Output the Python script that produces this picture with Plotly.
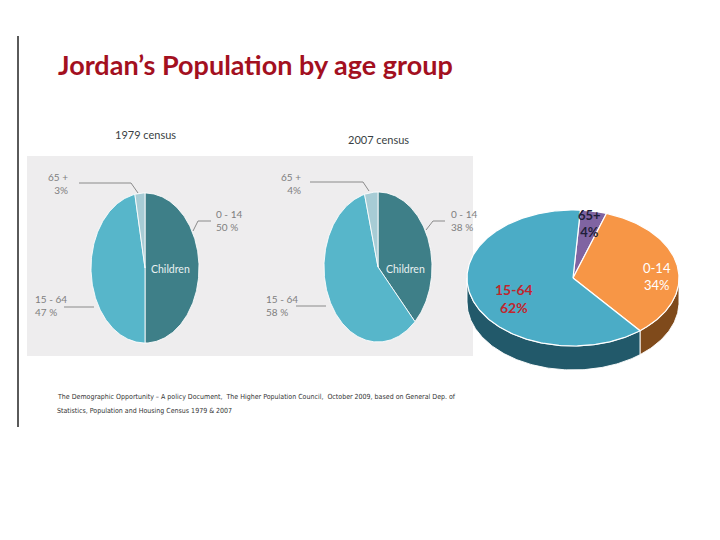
import numpy as np
import plotly.graph_objects as go

# ---------------- data ----------------
title_text = "Jordan\u2019s Population by age group"
census_titles = ["1979 census", "2007 census"]
groups_2d = ["0 - 14", "15 - 64", "65 +"]
values_1979 = [50, 47, 3]
values_2007 = [38, 58, 4]
pct_1979 = ["50 %", "47 %", "3%"]
pct_2007 = ["38 %", "58 %", "4%"]
center_word = "Children"

groups_3d = ["65+", "0-14", "15-64"]
values_3d = [4, 34, 62]
pct_3d = ["4%", "34%", "62%"]

source_lines = [
    "The Demographic Opportunity \u2013 A policy Document,  The Higher Population Council,  October 2009, based on General Dep. of",
    "Statistics, Population and Housing Census 1979 & 2007",
]

# ---------------- styles ----------------
W, H = 720, 540
OFF = 8  # page body margin compensation
colors_2d = ["#3E7F88", "#57B6CA", "#A7CCD5"]
colors_3d_top = ["#8064A2", "#F79646", "#4BACC6"]
colors_3d_side = ["#4D3B62", "#7F4A1B", "#22596A"]
label_font = "Lato, 'Open Sans', sans-serif"
narrow_font = "'Liberation Sans Narrow', 'DejaVu Sans Condensed', sans-serif"

fig = go.Figure()


def ellipse_pts(cx, cy, a, b, t1, t2, dy=0.0, n=None):
    if n is None:
        n = max(2, int(abs(t2 - t1) / 1.0) + 2)
    t = np.radians(np.linspace(t1, t2, n))
    return cx + a * np.sin(t), cy - b * np.cos(t) + dy


def wedge(cx, cy, a, b, t1, t2):
    xs, ys = ellipse_pts(cx, cy, a, b, t1, t2)
    return np.concatenate([[cx], xs, [cx]]), np.concatenate([[cy], ys, [cy]])


def angles(values, start):
    tot = float(sum(values))
    out, cur = [], start
    for v in values:
        span = 360.0 * v / tot
        out.append((cur, cur + span))
        cur += span
    return out


# ---------------- flat (scanned) pies ----------------
pies_2d = [
    dict(values=values_1979, cx=145, cy=268),
    dict(values=values_2007, cx=378, cy=267),
]
for p in pies_2d:
    for (t1, t2), col, g, v in zip(angles(p["values"], 0.0), colors_2d, groups_2d, p["values"]):
        xs, ys = wedge(p["cx"], p["cy"], 54, 75, t1, t2)
        fig.add_trace(go.Scatter(x=xs, y=ys, mode="lines", fill="toself", fillcolor=col,
                                 line=dict(color="rgba(255,255,255,0.85)", width=1),
                                 name=g, hoverinfo="text", text=f"{g}: {v}%", showlegend=False))

# ---------------- 3D pie ----------------
cx3, cy3, a3, b3, depth = 573, 278, 106, 68, 24
ang3 = angles(values_3d, 4.0)
for (t1, t2), col in zip(ang3, colors_3d_side):
    for lo, hi in [(t1, t2), (t1 - 360, t2 - 360)]:
        s, e = max(lo, 90), min(hi, 270)
        if e > s:
            xt, yt = ellipse_pts(cx3, cy3, a3, b3, s, e)
            xb, yb = ellipse_pts(cx3, cy3, a3, b3, e, s, dy=depth)
            fig.add_trace(go.Scatter(x=np.concatenate([xt, xb, xt[:1]]),
                                     y=np.concatenate([yt, yb, yt[:1]]),
                                     mode="lines", fill="toself", fillcolor=col,
                                     line=dict(color="rgba(255,255,255,0.9)", width=1),
                                     hoverinfo="skip", showlegend=False))
for (t1, t2), col, g, v in zip(ang3, colors_3d_top, groups_3d, values_3d):
    xs, ys = wedge(cx3, cy3, a3, b3, t1, t2)
    fig.add_trace(go.Scatter(x=xs, y=ys, mode="lines", fill="toself", fillcolor=col,
                             line=dict(color="white", width=1.2),
                             hoverinfo="text", text=f"{g}: {v}%", showlegend=False))

# ---------------- decorations ----------------
shapes = [
    dict(type="line", x0=18, x1=18, y0=36, y1=427, line=dict(color="#5A5A5A", width=2)),
    dict(type="rect", x0=27, x1=473, y0=156, y1=356, fillcolor="#EEEDEE",
         line=dict(width=0), layer="below"),
]
leader_paths = [
    [(79, 183), (131, 183), (138, 193)],
    [(193, 231), (198, 221), (211, 221)],
    [(64, 307), (94, 307)],
    [(310, 182), (363, 182), (369, 191)],
    [(426, 230), (433, 221), (445, 221)],
    [(296, 306), (326, 306)],
]
for path in leader_paths:
    d = "M " + " L ".join(f"{x},{y}" for x, y in path)
    shapes.append(dict(type="path", path=d, line=dict(color="#8A8A8A", width=1)))

ann = []


def txt(x, y, s, size, color, xanchor="left", family=label_font, bold=False, align="left"):
    if bold:
        s = f"<b>{s}</b>"
    ann.append(dict(x=x, y=y, xref="x", yref="y", text=s, showarrow=False,
                    xanchor=xanchor, yanchor="middle", align=align,
                    font=dict(family=family, size=size, color=color)))


txt(56, 64, title_text, 27, "#A3101F", bold=True)
txt(113, 134, census_titles[0], 11, "#3A3F44")
txt(346, 139, census_titles[1], 11, "#3A3F44")

thin = "#7E7E7E"
txt(70, 183, f"{groups_2d[2]}<br>{pct_1979[2]}", 10, thin, xanchor="right", align="right")
txt(214, 220, f"{groups_2d[0]}<br>{pct_1979[0]}", 10, thin)
txt(33, 305, f"{groups_2d[1]}<br>{pct_1979[1]}", 10, thin)
txt(170, 269, center_word, 10.5, "#E8F1F2", xanchor="center")
txt(303, 183, f"{groups_2d[2]}<br>{pct_2007[2]}", 10, thin, xanchor="right", align="right")
txt(449, 220, f"{groups_2d[0]}<br>{pct_2007[0]}", 10, thin)
txt(264, 305, f"{groups_2d[1]}<br>{pct_2007[1]}", 10, thin)
txt(405, 269, center_word, 10.5, "#E8F1F2", xanchor="center")

txt(589, 223, f"{groups_3d[0]}<br>{pct_3d[0]}", 13, "#1F1F3A", xanchor="center", bold=True, align="center")
txt(657, 276, f"{groups_3d[1]}<br>{pct_3d[1]}", 13, "#FFFFFF", xanchor="center", align="center")
txt(514, 298, f"{groups_3d[2]}<br>{pct_3d[2]}", 14, "#C0262E", xanchor="center", bold=True, align="center")

txt(55, 397, source_lines[0], 7, "#333333", family=narrow_font)
txt(55, 411, source_lines[1], 7, "#333333", family=narrow_font)

fig.update_layout(
    width=W, height=H, margin=dict(l=0, r=0, t=0, b=0),
    paper_bgcolor="white", plot_bgcolor="white",
    xaxis=dict(range=[OFF, W + OFF], visible=False, fixedrange=True),
    yaxis=dict(range=[H + OFF, OFF], visible=False, fixedrange=True),
    shapes=shapes, annotations=ann, showlegend=False,
)
fig.write_html("out.html")
